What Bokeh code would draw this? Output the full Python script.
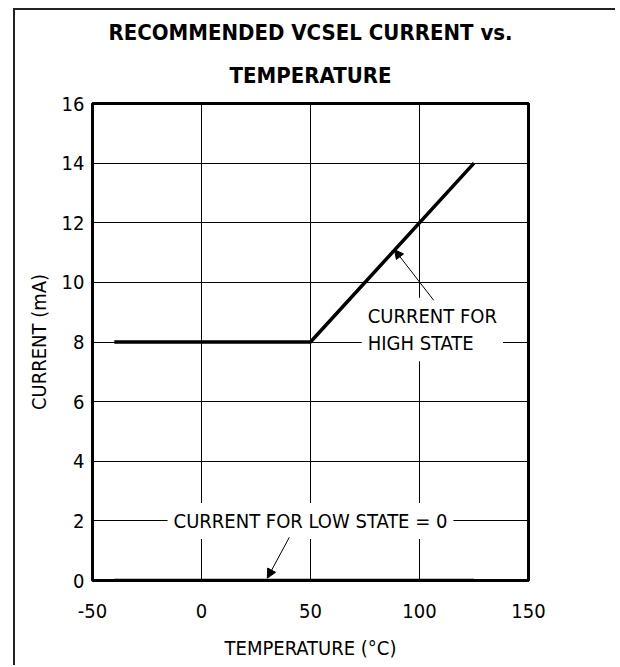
from bokeh.plotting import figure
from bokeh.layouts import column
from bokeh.models import Label, Arrow, NormalHead, FixedTicker, Range1d, Title
from bokeh.embed import file_html
from bokeh.resources import INLINE

# ---- data ----
temps_high = [-40, 50, 125]
current_high = [8, 8, 14]
temps_low = [-40, 125]
current_low = [0, 0]
x_ticks = [-50, 0, 50, 100, 150]
y_ticks = [0, 2, 4, 6, 8, 10, 12, 14, 16]
x_tick_labels = ["-50", "0", "50", "100", "150"]

title_line1 = "RECOMMENDED VCSEL CURRENT vs."
title_line2 = "TEMPERATURE"
x_label = "TEMPERATURE (°C)"
y_label = "CURRENT (mA)"
high_note = "CURRENT FOR\nHIGH STATE"
low_note = "CURRENT FOR LOW STATE = 0"

FONT = "DejaVu Sans Condensed"
FS = "20px"

p = figure(width=600, height=655, x_range=Range1d(-50, 150), y_range=Range1d(0, 16),
           output_backend="svg", toolbar_location=None,
           min_border_left=77, min_border_right=87, min_border_top=93, min_border_bottom=85)
p.background_fill_color = "white"
p.border_fill_color = "white"
p.outline_line_color = "black"
p.outline_line_width = 3

for ax in (p.xaxis[0], p.yaxis[0]):
    ax.major_tick_in = 0
    ax.major_tick_out = 0
    ax.minor_tick_in = 0
    ax.minor_tick_out = 0
    ax.axis_line_color = None
    ax.major_label_text_font = FONT
    ax.major_label_text_font_size = FS
    ax.major_label_text_color = "black"
    ax.axis_label_text_font = FONT
    ax.axis_label_text_font_size = FS
    ax.axis_label_text_font_style = "normal"
    ax.axis_label_text_color = "black"

p.xaxis.ticker = FixedTicker(ticks=x_ticks)
p.yaxis.ticker = FixedTicker(ticks=y_ticks)
p.xaxis.major_label_overrides = dict(zip(x_ticks, x_tick_labels))
p.xaxis.axis_label = x_label
p.yaxis.axis_label = y_label
p.xaxis.major_label_standoff = 23
p.xaxis.axis_label_standoff = 15
p.yaxis.major_label_standoff = 8
p.yaxis.axis_label_standoff = 8

p.xgrid.ticker = FixedTicker(ticks=x_ticks)
p.ygrid.ticker = FixedTicker(ticks=y_ticks)
for g in (p.xgrid[0], p.ygrid[0]):
    g.grid_line_color = "black"
    g.grid_line_width = 1
    g.grid_line_alpha = 1.0

# data lines
p.line(temps_high, current_high, line_color="black", line_width=3.5)
p.line(temps_low, current_low, line_color="black", line_width=3.5)

# annotations
p.add_layout(Label(x=73.5, y=8.42, text=high_note, text_font=FONT, text_font_size=FS,
                   text_align="left", text_baseline="middle", text_line_height=1.15,
                   background_fill_color="white", padding=6, text_color="black"))
p.add_layout(Label(x=50, y=2, text=low_note, text_font=FONT, text_font_size=FS,
                   text_align="center", text_baseline="middle",
                   background_fill_color="white", padding=6, text_color="black"))

p.add_layout(Arrow(end=NormalHead(size=9, fill_color="black", line_color="black", line_width=1),
                   x_start=106.5, y_start=9.4, x_end=88.5, y_end=11.1,
                   line_color="black", line_width=1))
p.add_layout(Arrow(end=NormalHead(size=9, fill_color="black", line_color="black", line_width=1),
                   x_start=40.3, y_start=1.45, x_end=30.2, y_end=0.08,
                   line_color="black", line_width=1))

# title (two lines, added bottom line first)
p.add_layout(Title(text=title_line2, align="center", text_font=FONT, text_font_size="22px",
                   text_font_style="bold", text_color="black", standoff=32), "above")
p.add_layout(Title(text=title_line1, align="center", text_font=FONT, text_font_size="22px",
                   text_font_style="bold", text_color="black", standoff=0), "above")

layout = column(p, styles={"border-left": "2px solid #222", "border-top": "2px solid #222",
                           "margin-left": "13px", "margin-top": "8px"})

open("out.html", "w").write(file_html(layout, INLINE))
